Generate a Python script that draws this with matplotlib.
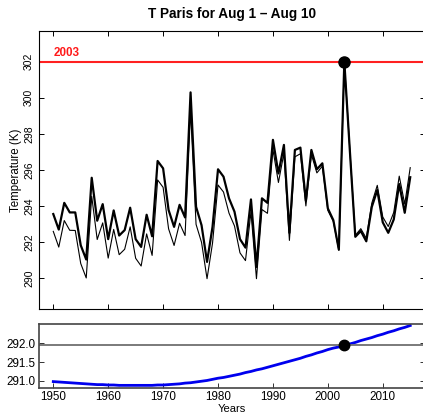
import numpy as np
import matplotlib
matplotlib.use("Agg")
import matplotlib.pyplot as plt

plt.rcParams['font.family'] = ['Liberation Sans', 'DejaVu Sans']

years = list(range(1950, 2016))

# mean T over Aug 1 - Aug 10 (K)
temp = [293.56, 292.70, 294.18, 293.65, 293.65, 291.83, 291.04, 295.57, 293.19, 294.11,
        292.17, 293.76, 292.37, 292.67, 293.91, 292.17, 291.74, 293.52, 292.33, 296.50,
        296.09, 293.78, 292.85, 294.07, 293.37, 300.30, 293.96, 292.94, 290.91, 292.85,
        296.04, 295.63, 294.43, 293.69, 292.17, 291.70, 294.37, 290.63, 294.43, 294.18,
        297.67, 295.81, 297.39, 292.52, 297.11, 297.24, 294.30, 297.11, 296.04, 296.37,
        293.87, 293.22, 291.59, 302.00, 297.10, 292.30, 292.62, 292.05, 293.95, 294.89,
        293.10, 292.52, 293.26, 295.22, 293.63, 295.60]

# smooth trend (K)
trend = [290.98, 290.97, 290.96, 290.95, 290.94, 290.93, 290.92, 290.91, 290.90, 290.90,
         290.89, 290.89, 290.88, 290.88, 290.88, 290.88, 290.88, 290.88, 290.88, 290.89,
         290.89, 290.90, 290.91, 290.92, 290.94, 290.95, 290.97, 290.99, 291.01, 291.04,
         291.07, 291.09, 291.12, 291.15, 291.18, 291.22, 291.25, 291.29, 291.32, 291.36,
         291.40, 291.44, 291.48, 291.52, 291.56, 291.60, 291.65, 291.69, 291.74, 291.78,
         291.83, 291.87, 291.90, 291.94, 291.98, 292.02, 292.07, 292.11, 292.15, 292.20,
         292.24, 292.29, 292.33, 292.38, 292.42, 292.47]

ref_year = 2003
i_ref = years.index(ref_year)
# series with the trend removed, pinned to the 2003 trend level
detrended = [t + (tr - trend[i_ref]) for t, tr in zip(temp, trend)]

W, H = 423, 415
fig = plt.figure(figsize=(W / 100, H / 100), dpi=100)

def box(l, t, r, b):
    return [l / W, 1 - b / H, (r - l) / W, (b - t) / H]

ax1 = fig.add_axes(box(39, 31, 424.5, 309))
ax2 = fig.add_axes(box(39, 324, 424.5, 388))

xlim = (1947.4, 2017.6)
xt = [1950, 1960, 1970, 1980, 1990, 2000, 2010]

ax1.plot(years, detrended, color='black', lw=0.8)
ax1.plot(years, temp, color='black', lw=1.6)
ax1.axhline(temp[i_ref], color='#ff2020', lw=1.5)
ax1.plot([ref_year], [temp[i_ref]], 'o', color='black', ms=8, zorder=5)
ax1.text(1950, temp[i_ref] + 0.15, str(ref_year), color='#ff1a1a', fontweight='bold',
         fontsize=8.4, ha='left', va='bottom')
ax1.set_xlim(*xlim)
ax1.set_ylim(288.3, 303.7)
ax1.set_xticks(xt)
ax1.set_yticks(range(290, 303, 2))
ax1.tick_params(direction='in', length=3.3, width=0.7, top=True, right=True,
                labelbottom=False, labelsize=7.5, pad=3.5)
for lab in ax1.get_yticklabels():
    lab.set_rotation(90)
    lab.set_va('center')
for s in ax1.spines.values():
    s.set_linewidth(0.8)

ax2.plot(years, trend, color='#0000ee', lw=2.0)
ax2.axhline(trend[i_ref], color='#707070', lw=1.3)
ax2.plot([ref_year], [trend[i_ref]], 'o', color='black', ms=7.5, zorder=5)
ax2.set_xlim(*xlim)
ax2.set_ylim(290.81, 292.51)
ax2.set_xticks(xt)
ax2.set_yticks([291.0, 291.5, 292.0])
ax2.set_yticklabels(['291.0', '291.5', '292.0'])
ax2.tick_params(direction='in', length=3.3, width=0.7, top=False, right=True,
                labelsize=8.4, pad=2.5, colors='#333333', labelcolor='black')
for s in ax2.spines.values():
    s.set_linewidth(1.2)
    s.set_color('#444444')

fig.text(231.5 / W, 1 - 14 / H, 'T Paris for Aug 1 \u2013 Aug 10', fontweight='bold',
         fontsize=9.8, ha='center', va='center')
fig.text(16 / W, 1 - 170 / H, 'Temperature (K)', rotation=90, fontsize=8.3,
         ha='center', va='center')
fig.text(231.5 / W, 1 - 409 / H, 'Years', fontsize=8.0, ha='center', va='center')

fig.savefig('out.png', dpi=100)
